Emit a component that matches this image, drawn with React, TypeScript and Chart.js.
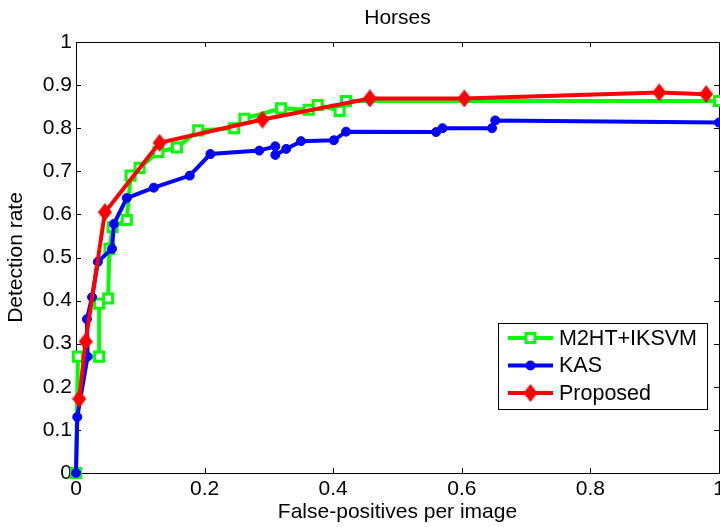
import React, { useEffect, useRef } from "react";
import { Chart, registerables } from "chart.js";

Chart.register(...registerables);

// ---- data ----
const m2htX = [0, 0.003, 0.036, 0.036, 0.05, 0.052, 0.057, 0.079, 0.085, 0.099, 0.128, 0.157, 0.19, 0.246, 0.262, 0.319, 0.362, 0.376, 0.41, 0.42, 1.0];
const m2htY = [0, 0.27, 0.27, 0.393, 0.405, 0.52, 0.57, 0.587, 0.69, 0.708, 0.745, 0.755, 0.795, 0.8, 0.822, 0.846, 0.843, 0.854, 0.84, 0.863, 0.863];

const kasX = [0, 0.002, 0.018, 0.017, 0.025, 0.034, 0.056, 0.059, 0.079, 0.121, 0.177, 0.209, 0.285, 0.31, 0.31, 0.327, 0.35, 0.401, 0.42, 0.56, 0.57, 0.647, 0.652, 1.0];
const kasY = [0, 0.13, 0.27, 0.357, 0.408, 0.49, 0.52, 0.578, 0.638, 0.662, 0.69, 0.74, 0.748, 0.758, 0.738, 0.752, 0.77, 0.772, 0.792, 0.791, 0.8, 0.8, 0.818, 0.813];

const propX = [0.005, 0.015, 0.045, 0.13, 0.29, 0.457, 0.604, 0.907, 0.98];
const propY = [0.172, 0.305, 0.605, 0.766, 0.82, 0.869, 0.869, 0.883, 0.879];

const seriesNames = ["M2HT+IKSVM", "KAS", "Proposed"];
const xTicks = [0, 0.2, 0.4, 0.6, 0.8, 1];
const yTicks = [0, 0.1, 0.2, 0.3, 0.4, 0.5, 0.6, 0.7, 0.8, 0.9, 1];
const titleText = "Horses";
const xTitle = "False-positives per image";
const yTitle = "Detection rate";

const FONT = "'Liberation Sans', Arial, sans-serif";
const FS = 21;
const LEG_FS = 21.5;
const GREEN = "#00ff00";
const BLUE = "#0000ff";
const RED = "#ff0000";

function zip(xs: number[], ys: number[]) {
  return xs.map((x, i) => ({ x, y: ys[i] }));
}

function makeDiamond(): HTMLCanvasElement {
  const c = document.createElement("canvas");
  c.width = 14;
  c.height = 18;
  const g = c.getContext("2d")!;
  g.fillStyle = RED;
  g.beginPath();
  g.moveTo(7, 0);
  g.lineTo(14, 9);
  g.lineTo(7, 18);
  g.lineTo(0, 9);
  g.closePath();
  g.fill();
  return c;
}

export default function App() {
  const ref = useRef<HTMLCanvasElement | null>(null);

  useEffect(() => {
    if (!ref.current) return;
    const diamond = makeDiamond();

    const framePlugin = {
      id: "frame",
      beforeDatasetsDraw(chart: any) {
        const { ctx, chartArea: a, scales } = chart;
        ctx.save();
        ctx.strokeStyle = "#000";
        ctx.lineWidth = 1;
        ctx.strokeRect(a.left + 0.5, a.top + 0.5, a.right - a.left, a.bottom - a.top);
        const L = 5;
        ctx.beginPath();
        xTicks.forEach((v) => {
          const px = Math.round(scales.x.getPixelForValue(v)) + 0.5;
          ctx.moveTo(px, a.bottom);
          ctx.lineTo(px, a.bottom - L);
          ctx.moveTo(px, a.top);
          ctx.lineTo(px, a.top + L);
        });
        yTicks.forEach((v) => {
          const py = Math.round(scales.y.getPixelForValue(v)) + 0.5;
          ctx.moveTo(a.left, py);
          ctx.lineTo(a.left + L, py);
          ctx.moveTo(a.right, py);
          ctx.lineTo(a.right - L, py);
        });
        ctx.stroke();
        ctx.restore();
      },
      afterDraw(chart: any) {
        const { ctx, chartArea: a } = chart;
        ctx.save();
        // title
        ctx.fillStyle = "#000";
        ctx.font = `${FS}px ${FONT}`;
        ctx.textAlign = "center";
        ctx.textBaseline = "middle";
        ctx.fillText(titleText, (a.left + a.right) / 2, a.top - 24);

        // legend
        const bx1 = a.right - 12;
        const bx0 = bx1 - 209;
        const by1 = a.bottom - 64;
        const by0 = by1 - 86;
        ctx.fillStyle = "#fff";
        ctx.fillRect(bx0, by0, bx1 - bx0, by1 - by0);
        ctx.strokeStyle = "#000";
        ctx.lineWidth = 1;
        ctx.strokeRect(bx0 + 0.5, by0 + 0.5, bx1 - bx0, by1 - by0);
        const colors = [GREEN, BLUE, RED];
        seriesNames.forEach((name, i) => {
          const y = by0 + 15 + i * 27.5;
          const lx0 = bx0 + 10;
          const lx1 = bx0 + 55;
          const mx = (lx0 + lx1) / 2;
          ctx.strokeStyle = colors[i];
          ctx.lineWidth = 4;
          ctx.beginPath();
          ctx.moveTo(lx0, y);
          ctx.lineTo(lx1, y);
          ctx.stroke();
          if (i === 0) {
            ctx.fillStyle = "#fff";
            ctx.fillRect(mx - 4.5, y - 4.5, 9, 9);
            ctx.lineWidth = 3;
            ctx.strokeRect(mx - 4.5, y - 4.5, 9, 9);
          } else if (i === 1) {
            ctx.fillStyle = BLUE;
            ctx.beginPath();
            ctx.arc(mx, y, 5, 0, Math.PI * 2);
            ctx.fill();
          } else {
            ctx.drawImage(diamond, mx - diamond.width / 2, y - diamond.height / 2);
          }
          ctx.fillStyle = "#000";
          ctx.font = `${LEG_FS}px ${FONT}`;
          ctx.textAlign = "left";
          ctx.textBaseline = "middle";
          ctx.fillText(name, bx0 + 61, y + 1);
        });
        ctx.restore();
      },
    };

    const chart = new Chart(ref.current, {
      type: "line",
      data: {
        datasets: [
          {
            label: seriesNames[0],
            data: zip(m2htX, m2htY),
            borderColor: GREEN,
            borderWidth: 4,
            pointStyle: "rect",
            pointRadius: 6.4,
            pointBorderWidth: 3,
            pointBorderColor: GREEN,
            pointBackgroundColor: "#fff",
            tension: 0,
            fill: false,
            clip: false as any,
            order: 3,
          },
          {
            label: seriesNames[1],
            data: zip(kasX, kasY),
            borderColor: BLUE,
            borderWidth: 4,
            pointStyle: "circle",
            pointRadius: 4.5,
            pointBorderWidth: 1,
            pointBorderColor: BLUE,
            pointBackgroundColor: BLUE,
            tension: 0,
            fill: false,
            clip: false as any,
            order: 2,
          },
          {
            label: seriesNames[2],
            data: zip(propX, propY),
            borderColor: RED,
            borderWidth: 4,
            pointStyle: diamond as any,
            pointRadius: 8,
            tension: 0,
            fill: false,
            clip: false as any,
            order: 1,
          },
        ],
      },
      options: {
        animation: false,
        responsive: false,
        devicePixelRatio: 1,
        layout: { padding: { top: 42, right: 21, left: 0, bottom: 0 } },
        plugins: {
          legend: { display: false },
          title: { display: false },
          tooltip: { enabled: false },
        },
        events: [],
        scales: {
          x: {
            type: "linear",
            min: 0,
            max: 1,
            grid: { display: false, drawTicks: false },
            border: { display: false },
            afterBuildTicks: (s: any) => {
              s.ticks = xTicks.map((v) => ({ value: v }));
            },
            afterFit: (s: any) => {
              s.height = 54;
            },
            ticks: {
              autoSkip: false,
              maxRotation: 0,
              padding: 4,
              color: "#000",
              font: { family: FONT, size: FS },
              callback: (v: any) => String(v),
            },
            title: {
              display: true,
              text: xTitle,
              color: "#000",
              font: { family: FONT, size: FS },
              padding: { top: 0, bottom: 2 },
            },
          },
          y: {
            type: "linear",
            min: 0,
            max: 1,
            grid: { display: false, drawTicks: false },
            border: { display: false },
            afterBuildTicks: (s: any) => {
              s.ticks = yTicks.map((v) => ({ value: v }));
            },
            afterFit: (s: any) => {
              s.width = 76;
            },
            ticks: {
              autoSkip: false,
              padding: 4,
              color: "#000",
              font: { family: FONT, size: FS },
              callback: (v: any) => String(v),
            },
            title: {
              display: true,
              text: yTitle,
              color: "#000",
              font: { family: FONT, size: FS },
              padding: { top: 4, bottom: 0 },
            },
          },
        },
      },
      plugins: [framePlugin],
    });

    return () => chart.destroy();
  }, []);

  return (
    <div style={{ position: "fixed", left: 0, top: 0, width: 720, height: 527, overflow: "hidden", background: "#fff" }}>
      <canvas ref={ref} width={740} height={527} style={{ display: "block", width: 740, height: 527 }} />
    </div>
  );
}
